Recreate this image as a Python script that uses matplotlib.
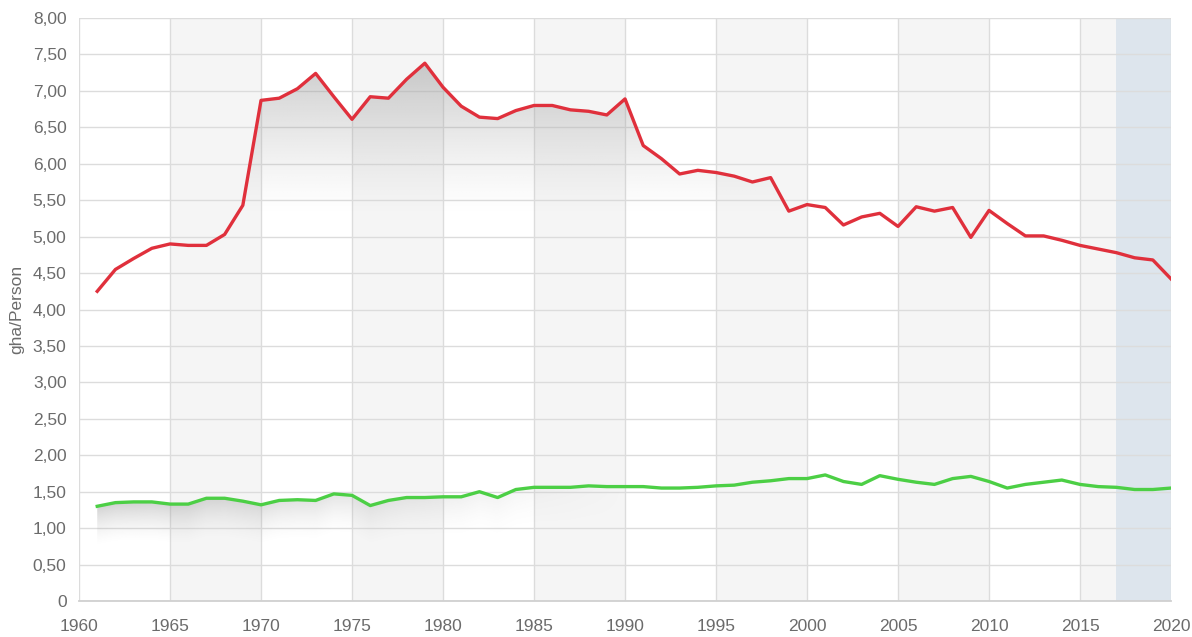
import numpy as np
import matplotlib
matplotlib.use("Agg")
import matplotlib.pyplot as plt
from matplotlib.patches import Polygon

plt.rcParams['font.family'] = ['Liberation Sans', 'DejaVu Sans']

years = list(range(1961, 2021))
footprint = [4.25, 4.55, 4.70, 4.84, 4.90, 4.88, 4.88, 5.03, 5.43, 6.87,
             6.90, 7.03, 7.24, 6.92, 6.61, 6.92, 6.90, 7.16, 7.38, 7.05,
             6.79, 6.64, 6.62, 6.73, 6.80, 6.80, 6.74, 6.72, 6.67, 6.89,
             6.25, 6.07, 5.86, 5.91, 5.88, 5.83, 5.75, 5.81, 5.35, 5.44,
             5.40, 5.16, 5.27, 5.32, 5.14, 5.41, 5.35, 5.40, 4.99, 5.36,
             5.18, 5.01, 5.01, 4.95, 4.88, 4.83, 4.78, 4.71, 4.68, 4.42]
biocapacity = [1.30, 1.35, 1.36, 1.36, 1.33, 1.33, 1.41, 1.41, 1.37, 1.32,
               1.38, 1.39, 1.38, 1.47, 1.45, 1.31, 1.38, 1.42, 1.42, 1.43,
               1.43, 1.50, 1.42, 1.53, 1.56, 1.56, 1.56, 1.58, 1.57, 1.57,
               1.57, 1.55, 1.55, 1.56, 1.58, 1.59, 1.63, 1.65, 1.68, 1.68,
               1.73, 1.64, 1.60, 1.72, 1.67, 1.63, 1.60, 1.68, 1.71, 1.64,
               1.55, 1.60, 1.63, 1.66, 1.60, 1.57, 1.56, 1.53, 1.53, 1.55]
x_ticks = list(range(1960, 2021, 5))
y_ticks = [i * 0.5 for i in range(17)]
y_label = "gha/Person"
grey_bands = [(1965, 1970), (1975, 1980), (1985, 1990), (1995, 2000), (2005, 2010), (2015, 2017)]
blue_band = (2017, 2020)

fig = plt.figure(figsize=(11.92, 6.37), dpi=100)
ax = fig.add_axes([0.0663, 0.0565, 0.9161, 0.9152])
ax.set_xlim(1960, 2020)
ax.set_ylim(0, 8)

for a, b in grey_bands:
    ax.axvspan(a, b, color="#f5f5f5", zorder=0, lw=0)
ax.axvspan(blue_band[0], blue_band[1], color="#dde5ed", zorder=0, lw=0)

ax.set_xticks(x_ticks)
ax.set_yticks(y_ticks)
ax.grid(True, color="#dcdcdc", lw=1.0, zorder=1)
ax.set_axisbelow(True)
for s in ax.spines.values():
    s.set_visible(False)
ax.spines['bottom'].set_visible(True)
ax.spines['bottom'].set_color("#d0d0d0")
ax.spines['bottom'].set_linewidth(1.3)
ax.tick_params(length=0, colors="#6b6b6b", labelsize=12.5)
ax.tick_params(axis='y', pad=9)
ax.tick_params(axis='x', pad=13)
ax.set_yticklabels(["0" if v == 0 else f"{v:.2f}".replace(".", ",") for v in y_ticks])
ax.set_ylabel(y_label, color="#6b6b6b", fontsize=12.5, labelpad=6)

xs_arr = np.array(years, dtype=float)


def shade(ys, mode, alpha_max, zorder, top, bot, depth=None, xfade=None):
    ys = np.array(ys, dtype=float)
    poly_xy = [(xs_arr[0], 0)] + list(zip(xs_arr, ys)) + [(xs_arr[-1], 0)]
    poly = Polygon(poly_xy, closed=True, facecolor="none", edgecolor="none")
    ax.add_patch(poly)
    nx, ny = 600, 300
    gx = np.linspace(xs_arr[0], xs_arr[-1], nx)
    gy = np.linspace(bot, top, ny)
    X, Y = np.meshgrid(gx, gy)
    if mode == "abs":
        a = np.clip((Y - bot) / (top - bot), 0, 1) ** 1.3
    else:
        line = np.interp(X, xs_arr, ys)
        a = np.clip(1 - (line - Y) / depth, 0, 1) ** 1.5
        if xfade is not None:
            a = a * np.clip(1 - (X - xfade[0]) / (xfade[1] - xfade[0]), 0, 1)
    rgba = np.zeros((ny, nx, 4))
    rgba[..., :3] = 0.6
    rgba[..., 3] = a * alpha_max
    im = ax.imshow(rgba, extent=[gx[0], gx[-1], bot, top], origin="lower",
                   aspect="auto", zorder=zorder, interpolation="bilinear")
    im.set_clip_path(poly)


shade(footprint, "abs", 0.5, 2, 7.4, 5.3)
shade(biocapacity, "rel", 0.45, 2, 1.8, 0.6, depth=0.55, xfade=(1963, 1990))

ax.plot(years, footprint, color="#e0303c", lw=2.4, zorder=4, solid_joinstyle="round")
ax.plot(years, biocapacity, color="#4ccf45", lw=2.4, zorder=4, solid_joinstyle="round")

fig.savefig("out.png", dpi=100)
